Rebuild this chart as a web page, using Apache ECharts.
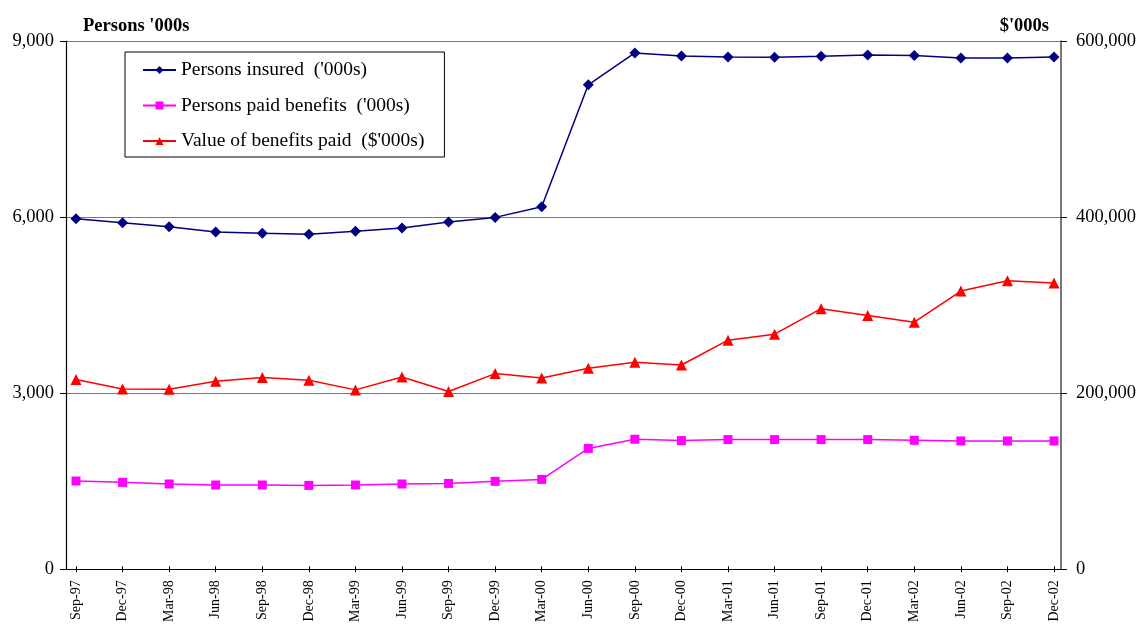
<!DOCTYPE html>
<html>
<head>
<meta charset="utf-8">
<title>Unemployment insurance</title>
<script src="https://cdn.jsdelivr.net/npm/echarts@6/dist/echarts.min.js"></script>
<style>
  html, body { margin: 0; padding: 0; background: #fff; }
  #chart { width: 1139px; height: 625px; }
</style>
</head>
<body>
<div id="chart"></div>
<script>
// Quarterly observations, Sep-97 to Dec-02
const quarters = ['Sep-97','Dec-97','Mar-98','Jun-98','Sep-98','Dec-98','Mar-99','Jun-99','Sep-99','Dec-99',
  'Mar-00','Jun-00','Sep-00','Dec-00','Mar-01','Jun-01','Sep-01','Dec-01','Mar-02','Jun-02','Sep-02','Dec-02'];

// Persons insured ('000s) - left axis
const personsInsured = [5954, 5886, 5818, 5727, 5705, 5688, 5739, 5795, 5898, 5978,
  6159, 8250, 8795, 8744, 8727, 8721, 8739, 8761, 8750, 8710, 8710, 8727];

// Persons paid benefits ('000s) - left axis
const personsPaid = [1461, 1438, 1410, 1393, 1393, 1386, 1393, 1410, 1420, 1455,
  1489, 2020, 2177, 2154, 2171, 2171, 2171, 2171, 2160, 2148, 2148, 2148];

// Value of benefits paid ($'000s) - right axis
const benefitsValue = [213300, 202600, 202300, 211400, 215600, 212500, 201500, 216300, 199700, 220100,
  215100, 226100, 233000, 229900, 258300, 265100, 294300, 286400, 278800, 314400, 326100, 323500];

// Axis ranges and tick steps
const leftAxis = { min: 0, max: 9000, step: 3000 };
const rightAxis = { min: 0, max: 600000, step: 200000 };

const seriesNames = ["Persons insured  ('000s)", "Persons paid benefits  ('000s)", "Value of benefits paid  ($'000s)"];

const FONT = "'Liberation Serif', 'Times New Roman', serif";
const fmt = v => v.toLocaleString('en-US');

const chart = echarts.init(document.getElementById('chart'), null, { renderer: 'canvas' });

chart.setOption({
  animation: false,
  backgroundColor: '#ffffff',
  textStyle: { fontFamily: FONT, color: '#000' },
  title: [
    { text: "Persons '000s", left: 78, top: 12,
      textStyle: { fontFamily: FONT, fontSize: 18.5, fontWeight: 'bold', color: '#000' } },
    { text: "$'000s", right: 85, top: 12,
      textStyle: { fontFamily: FONT, fontSize: 18.5, fontWeight: 'bold', color: '#000' } }
  ],
  legend: {
    data: seriesNames,
    orient: 'vertical',
    left: 125,
    top: 52,
    padding: [8, 20, 6, 17],
    itemGap: 15.5,
    itemWidth: 33,
    itemHeight: 10,
    borderColor: '#000',
    borderWidth: 1,
    backgroundColor: '#fff',
    textStyle: { fontFamily: FONT, fontSize: 19.5, color: '#000' }
  },
  grid: [
    // frame: axis lines and horizontal gridlines
    { left: 66, right: 76, top: 41, bottom: 56, containLabel: false },
    // data area: first and last quarter inset from the frame
    { left: 76, right: 85, top: 41, bottom: 56, containLabel: false }
  ],
  xAxis: [
    { type: 'value', gridIndex: 0, min: 0, max: 1,
      axisLine: { show: true, lineStyle: { color: '#000', width: 1.2 } },
      axisTick: { show: false }, axisLabel: { show: false }, splitLine: { show: false } },
    { type: 'category', gridIndex: 1, data: quarters, boundaryGap: false,
      axisLine: { show: false },
      axisTick: { show: true, length: 6, lineStyle: { color: '#000' } },
      axisLabel: { interval: 0, rotate: 90, margin: 14, fontFamily: FONT, fontSize: 14, color: '#000' },
      splitLine: { show: false } }
  ],
  yAxis: [
    { type: 'value', gridIndex: 0, position: 'left',
      min: leftAxis.min, max: leftAxis.max, interval: leftAxis.step,
      axisLine: { show: true, lineStyle: { color: '#000', width: 1.2 } },
      axisTick: { show: true, inside: false, length: 6, lineStyle: { color: '#000' } },
      axisLabel: { formatter: fmt, margin: 12, fontFamily: FONT, fontSize: 18.5, color: '#000' },
      splitLine: { show: true, lineStyle: { color: '#777', width: 1.2 } } },
    { type: 'value', gridIndex: 0, position: 'right',
      min: rightAxis.min, max: rightAxis.max, interval: rightAxis.step,
      axisLine: { show: true, lineStyle: { color: '#555', width: 1.6 } },
      axisTick: { show: true, inside: false, length: 6, lineStyle: { color: '#000' } },
      axisLabel: { formatter: fmt, margin: 15, fontFamily: FONT, fontSize: 18.5, color: '#000' },
      splitLine: { show: false } },
    { type: 'value', gridIndex: 1, min: leftAxis.min, max: leftAxis.max, show: false },
    { type: 'value', gridIndex: 1, min: rightAxis.min, max: rightAxis.max, show: false }
  ],
  series: [
    { name: seriesNames[0], type: 'line', xAxisIndex: 1, yAxisIndex: 2, data: personsInsured,
      symbol: 'diamond', symbolSize: 11, color: '#000080',
      lineStyle: { color: '#000080', width: 1.5 }, itemStyle: { color: '#000080' } },
    { name: seriesNames[1], type: 'line', xAxisIndex: 1, yAxisIndex: 2, data: personsPaid,
      symbol: 'rect', symbolSize: 9, color: '#ff00ff',
      lineStyle: { color: '#ff00ff', width: 1.5 }, itemStyle: { color: '#ff00ff' } },
    { name: seriesNames[2], type: 'line', xAxisIndex: 1, yAxisIndex: 3, data: benefitsValue,
      symbol: 'triangle', symbolSize: 11, color: '#ff0000',
      lineStyle: { color: '#ff0000', width: 1.5 }, itemStyle: { color: '#ff0000' } }
  ]
});
</script>
</body>
</html>
